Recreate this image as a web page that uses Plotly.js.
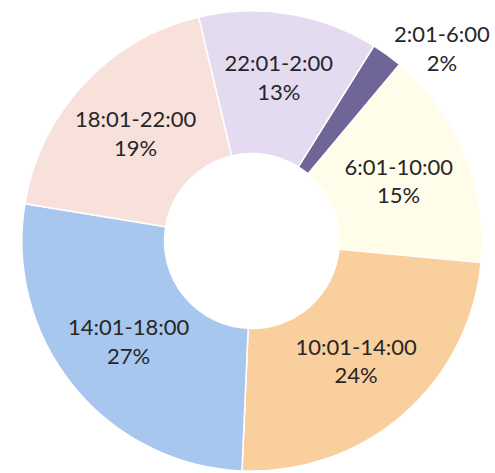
<!DOCTYPE html>
<html>
<head>
<meta charset="utf-8">
<script src="https://cdn.plot.ly/plotly-3.0.1.min.js"></script>
<style>html,body{margin:0;padding:0;background:#fff;}#chart{width:495px;height:473px;}</style>
</head>
<body>
<div id="chart"></div>
<script>
var categories = ["2:01-6:00", "6:01-10:00", "10:01-14:00", "14:01-18:00", "18:01-22:00", "22:01-2:00"];
var shares = [2.2, 15.4, 24.2, 26.9, 18.7, 12.6];
var sliceColors = ["#6f6597", "#fffde9", "#f9cf9d", "#a8c7ef", "#f9e1db", "#e4dbf0"];
var textPositions = ["none", "inside", "inside", "inside", "inside", "inside"];

var total = shares.reduce(function(a, b){ return a + b; }, 0);
var labelFont = {family: "Lato, 'Open Sans', sans-serif", size: 22, color: "#262626"};

var trace = {
  type: "pie",
  labels: categories,
  values: shares,
  sort: false,
  direction: "clockwise",
  rotation: 32,
  hole: 0.38,
  marker: {colors: sliceColors, line: {color: "#ffffff", width: 1.5}},
  texttemplate: "%{label}<br>%{percent:.0%}",
  textposition: textPositions,
  insidetextorientation: "horizontal",
  textfont: labelFont,
  showlegend: false,
  automargin: false,
  domain: {x: [0.044, 0.974], y: [0.004, 0.977]}
};

var layout = {
  width: 495,
  height: 473,
  margin: {l: 0, r: 0, t: 0, b: 0},
  paper_bgcolor: "#ffffff",
  showlegend: false,
  annotations: [{
    xref: "paper", yref: "paper",
    x: 0.893, y: 0.899,
    xanchor: "center", yanchor: "middle",
    showarrow: false,
    align: "center",
    text: categories[0] + "<br>" + Math.round(shares[0] / total * 100) + "%",
    font: labelFont
  }]
};

Plotly.newPlot("chart", [trace], layout, {displayModeBar: false, staticPlot: true});
</script>
</body>
</html>
